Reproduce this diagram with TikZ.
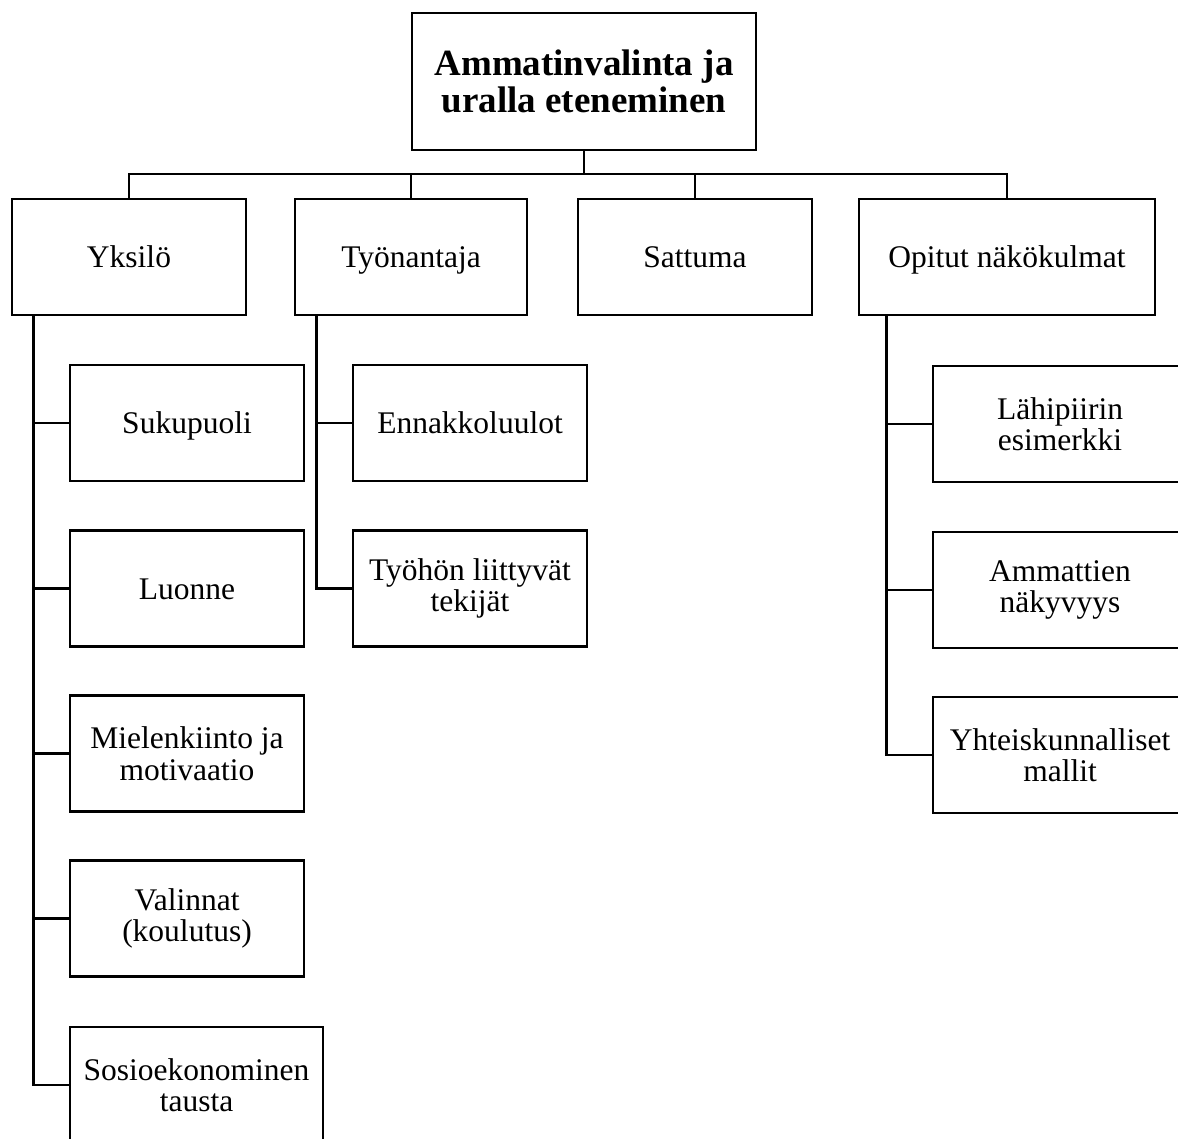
\documentclass[tikz,border=0pt]{standalone}
\usepackage{fontspec}
\setmainfont{Liberation Serif}
\begin{document}
\begin{tikzpicture}[x=1pt,y=1pt,
  box/.style={draw=black, line width=2.8pt, fill=white, rectangle, align=center,
    inner sep=0pt, minimum height=116pt, font=\fontsize{31.5}{31.5}\selectfont},
  oneline/.style={box, text height=21.5pt, text depth=0pt},
  title/.style={box, minimum width=344pt, minimum height=137pt,
    font=\fontsize{37}{37}\selectfont\bfseries},
  link/.style={draw=black, line width=2.8pt}]
\clip (0,0) rectangle (1178,-1138);
\fill[white] (0,0) rectangle (1178,-1138);

% root
\node[title] (root) at (584,-81.5) {Ammatinvalinta ja\\uralla eteneminen};

% first level
\node[oneline, minimum width=234pt] (yks) at (129,-257) {Yksilö};
\node[oneline, minimum width=232pt] (tyo) at (411,-257) {Työnantaja};
\node[oneline, minimum width=234pt] (sat) at (695,-257) {Sattuma};
\node[oneline, minimum width=296pt] (opi) at (1007,-257) {Opitut näkökulmat};

% children of Yksilö
\node[oneline, minimum width=234pt] (suk) at (187,-423) {Sukupuoli};
\node[oneline, minimum width=234pt] (luo) at (187,-588.5) {Luonne};
\node[box, minimum width=234pt] (mie) at (187,-753.5) {Mielenkiinto ja\\motivaatio};
\node[box, minimum width=234pt] (val) at (187,-918.5) {Valinnat\\(koulutus)};
\node[box, minimum width=253pt] (sos) at (196.5,-1085) {Sosioekonominen\\tausta};

% children of Työnantaja
\node[oneline, minimum width=234pt] (enn) at (470,-423) {Ennakkoluulot};
\node[box, minimum width=234pt] (tek) at (470,-588.5) {Työhön liittyvät\\tekijät};

% children of Opitut näkökulmat
\node[box, minimum width=254pt] (lah) at (1060,-424) {Lähipiirin\\esimerkki};
\node[box, minimum width=254pt] (amm) at (1060,-590) {Ammattien\\näkyvyys};
\node[box, minimum width=254pt] (yht) at (1060,-755) {Yhteiskunnalliset\\mallit};

% root to first level
\coordinate (bus) at (584,-174);
\draw[link] (root.south) -- (bus);
\draw[link] (bus) -| (yks.north);
\draw[link] (bus) -| (tyo.north);
\draw[link] (bus) -| (sat.north);
\draw[link] (bus) -| (opi.north);

% first level to children
\foreach \c in {suk,luo,mie,val,sos}
  \draw[link] (yks.south west) ++(23,0) |- (\c.west);
\foreach \c in {enn,tek}
  \draw[link] (tyo.south west) ++(23,0) |- (\c.west);
\foreach \c in {lah,amm,yht}
  \draw[link] (opi.south west) ++(29,0) |- (\c.west);
\end{tikzpicture}
\end{document}
